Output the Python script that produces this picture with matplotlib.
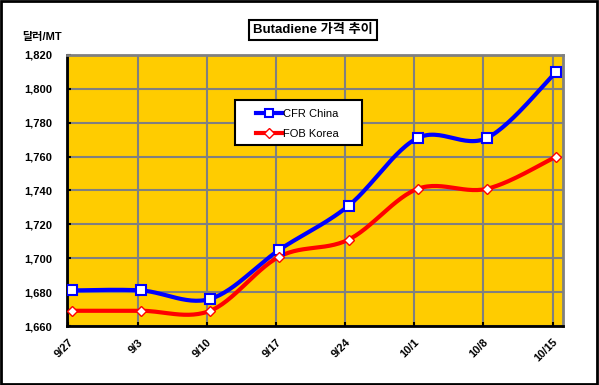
import numpy as np
import matplotlib.pyplot as plt
from matplotlib.patches import Rectangle

plt.rcParams['font.family'] = ['Liberation Sans', 'Noto Sans CJK KR']

# data
dates = ['9/27', '9/3', '9/10', '9/17', '9/24', '10/1', '10/8', '10/15']
cfr_china = [1681, 1681, 1676, 1705, 1731, 1771, 1771, 1810]
fob_korea = [1669, 1669, 1669, 1701, 1711, 1741, 1741, 1760]
yticks = list(range(1660, 1821, 20))


def smooth(x, y, n=30):
    # Catmull-Rom style bezier like Excel's smoothed line
    x = np.asarray(x, float)
    y = np.asarray(y, float)
    P = np.column_stack([x, y])
    P = np.vstack([P[0], P, P[-1]])
    out = []
    t = np.linspace(0, 1, n)[:, None]
    for i in range(1, len(P) - 2):
        p0, p1, p2, p3 = P[i - 1], P[i], P[i + 1], P[i + 2]
        b1 = p1 + (p2 - p0) / 6
        b2 = p2 - (p3 - p1) / 6
        seg = ((1 - t) ** 3) * p1 + 3 * ((1 - t) ** 2) * t * b1 + 3 * (1 - t) * t ** 2 * b2 + t ** 3 * p2
        out.append(seg)
    out = np.vstack(out)
    return out[:, 0], out[:, 1]


fig = plt.figure(figsize=(5.99, 3.85), dpi=100)
fig.patch.set_facecolor('white')
fig.patches.append(Rectangle((0.002, 0.003), 0.995, 0.994, transform=fig.transFigure,
                             fill=False, edgecolor='black', linewidth=2))

ax = fig.add_axes([0.1119, 0.1532, 0.828, 0.704])
ax.set_facecolor('#FFCC00')

x = np.arange(len(dates))
ax.set_xlim(-0.07, 7.1)
ax.set_ylim(1660, 1820)

for xv in x:
    ax.axvline(xv - 0.05, color='#808080', lw=1.5, zorder=1)
for yv in yticks:
    ax.axhline(yv, color='#808080', lw=1.5, zorder=1)

sx, sy = smooth(x, cfr_china)
ax.plot(sx, sy, color='#0000FF', lw=3, zorder=3)
sx, sy = smooth(x, fob_korea)
ax.plot(sx, sy, color='#FF0000', lw=3, zorder=3)

ax.plot(x, cfr_china, ls='none', marker='s', ms=7, mfc='white', mec='#0000FF', mew=1.5, zorder=4)
ax.plot(x, fob_korea, ls='none', marker='D', ms=5, mfc='white', mec='#FF0000', mew=1, zorder=4)

# legend box drawn by hand, entries placed inside it
ax.add_patch(Rectangle((0.339, 0.668), 0.256, 0.166, transform=ax.transAxes,
                       facecolor='white', edgecolor='black', lw=1.5, zorder=5))
h1, = ax.plot([], [], color='#0000FF', lw=3, marker='s', ms=6, mfc='white', mec='#0000FF', mew=1.5)
h2, = ax.plot([], [], color='#FF0000', lw=3, marker='D', ms=5, mfc='white', mec='#FF0000', mew=1)
leg = ax.legend([h1, h2], ['CFR China', 'FOB Korea'], loc='upper left',
                bbox_to_anchor=(0.381, 0.80), frameon=False, borderpad=0, borderaxespad=0,
                handlelength=2.3, handletextpad=0.1, labelspacing=0.85,
                prop={'size': 8})
leg.set_zorder(6)

ax.set_yticks(yticks)
ax.set_yticklabels([f'{v:,}' for v in yticks], fontsize=8, fontweight='bold')
ax.set_xticks(x - 0.05)
ax.set_xticklabels(dates, fontsize=8, fontweight='bold', rotation=45, ha='right',
                   rotation_mode='anchor')
ax.tick_params(axis='y', length=3, width=1.5, direction='in', pad=11)
ax.tick_params(axis='x', length=3, width=1.5, direction='in', pad=8)

for s in ['top', 'right']:
    ax.spines[s].set_color('#808080')
    ax.spines[s].set_linewidth(2)
for s in ['left', 'bottom']:
    ax.spines[s].set_color('black')
    ax.spines[s].set_linewidth(2)

fig.text(0.037, 0.903, '달러/MT', fontsize=8, fontweight='bold', ha='left', va='center')

fig.text(0.523, 0.922, 'Butadiene 가격 추이', fontsize=9.5, fontweight='bold', ha='center',
         va='center',
         bbox=dict(boxstyle='square,pad=0.3', facecolor='white', edgecolor='black', linewidth=1.5))

fig.savefig('out.png', dpi=100)
